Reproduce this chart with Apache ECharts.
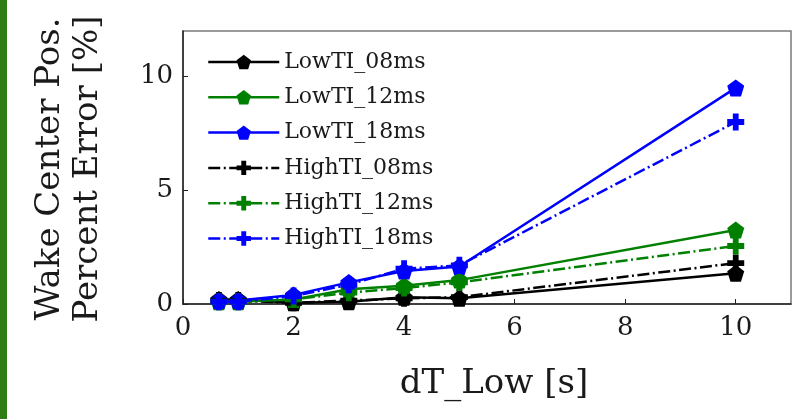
<!DOCTYPE html>
<html>
<head>
<meta charset="utf-8">
<script src="https://cdn.jsdelivr.net/npm/echarts@6/dist/echarts.min.js"></script>
<style>
  html, body { margin: 0; padding: 0; background: #fff; }
  #chart { width: 808px; height: 419px; }
</style>
</head>
<body>
<div id="chart"></div>
<script>
// Time step values (s)
var dtLow = [0.65, 1, 2, 3, 4, 5, 10];

// Wake center position percent error (%)
var lowTI08 = [0.2, 0.2, 0.05, 0.1, 0.3, 0.25, 1.35];
var lowTI12 = [0.1, 0.1, 0.2, 0.65, 0.8, 1.05, 3.25];
var lowTI18 = [0.15, 0.15, 0.4, 0.95, 1.45, 1.65, 9.5];
var highTI08 = [0.15, 0.15, 0.05, 0.15, 0.25, 0.3, 1.8];
var highTI12 = [0.1, 0.1, 0.2, 0.5, 0.7, 0.95, 2.55];
var highTI18 = [0.1, 0.1, 0.35, 0.85, 1.55, 1.7, 8.0];

var seriesNames = ['LowTI_08ms', 'LowTI_12ms', 'LowTI_18ms', 'HighTI_08ms', 'HighTI_12ms', 'HighTI_18ms'];
var seriesValues = [lowTI08, lowTI12, lowTI18, highTI08, highTI12, highTI18];
var seriesColors = ['#000000', '#008000', '#0000ff', '#000000', '#008000', '#0000ff'];

var xTicks = [0, 2, 4, 6, 8, 10];
var yTicks = [0, 5, 10];

var FONT = '"DejaVu Serif", serif';
var pentagon = 'path://M0,-1 L0.951,-0.309 L0.588,0.809 L-0.588,0.809 L-0.951,-0.309 Z';
var plus = 'path://M-0.34,-1 L0.34,-1 L0.34,-0.34 L1,-0.34 L1,0.34 L0.34,0.34 L0.34,1 L-0.34,1 L-0.34,0.34 L-1,0.34 L-1,-0.34 L-0.34,-0.34 Z';
var dashDot = [12, 3.5, 2, 3.5];

function pairs(xs, ys) {
  return xs.map(function (x, i) { return [x, ys[i]]; });
}

var series = seriesNames.map(function (name, i) {
  var high = i >= 3;
  return {
    name: name,
    type: 'line',
    data: pairs(dtLow, seriesValues[i]),
    symbol: high ? plus : pentagon,
    symbolSize: 17,
    showAllSymbol: true,
    color: seriesColors[i],
    lineStyle: { width: 2.5, color: seriesColors[i], type: high ? dashDot : 'solid' },
    itemStyle: { color: seriesColors[i] },
    emphasis: { disabled: true },
    animation: false
  };
});

var chart = echarts.init(document.getElementById('chart'), null, { renderer: 'canvas' });
chart.setOption({
  backgroundColor: '#ffffff',
  animation: false,
  grid: {
    left: 183, right: 17, top: 31, bottom: 115,
    show: true, borderColor: '#7a7a7a', borderWidth: 1.5, backgroundColor: 'transparent'
  },
  legend: {
    orient: 'vertical',
    left: 202, top: 46,
    itemWidth: 71, itemHeight: 18, itemGap: 13.3,
    lineStyle: { width: 2.5 },
    textStyle: { fontFamily: FONT, fontSize: 22, color: '#1a1a1a', lineHeight: 22 },
    data: seriesNames
  },
  xAxis: {
    type: 'value', min: 0, max: 11, interval: 2,
    axisLine: { show: true, lineStyle: { color: '#222', width: 1.5 } },
    axisTick: { show: true, inside: true, length: 5, lineStyle: { color: '#222' } },
    axisLabel: {
      fontFamily: FONT, fontSize: 26, color: '#1a1a1a', margin: 11, showMaxLabel: false,
      formatter: function (v) { return xTicks.indexOf(v) >= 0 ? String(v) : ''; }
    },
    splitLine: { show: false }
  },
  yAxis: {
    type: 'value', min: 0, max: 12, interval: 5,
    axisLine: { show: true, lineStyle: { color: '#222', width: 1.5 } },
    axisTick: { show: true, inside: true, length: 5, lineStyle: { color: '#222' } },
    axisLabel: {
      fontFamily: FONT, fontSize: 26, color: '#1a1a1a', margin: 10, showMaxLabel: false,
      formatter: function (v) { return yTicks.indexOf(v) >= 0 ? String(v) : ''; }
    },
    splitLine: { show: false }
  },
  graphic: [
    { type: 'rect', left: 0, top: 0, shape: { width: 7, height: 419 }, style: { fill: '#2f7d15' }, silent: true },
    {
      type: 'text', x: 69, y: 169, rotation: Math.PI / 2,
      style: {
        text: 'Wake Center Pos.\nPercent Error [%]',
        font: '34px ' + FONT, fill: '#1a1a1a',
        textAlign: 'center', textVerticalAlign: 'middle', lineHeight: 38
      },
      silent: true
    },
    {
      type: 'text', x: 494, y: 384,
      style: {
        text: 'dT_Low [s]', font: '34px ' + FONT, fill: '#1a1a1a',
        textAlign: 'center', textVerticalAlign: 'middle'
      },
      silent: true
    }
  ],
  series: series
});
</script>
</body>
</html>
